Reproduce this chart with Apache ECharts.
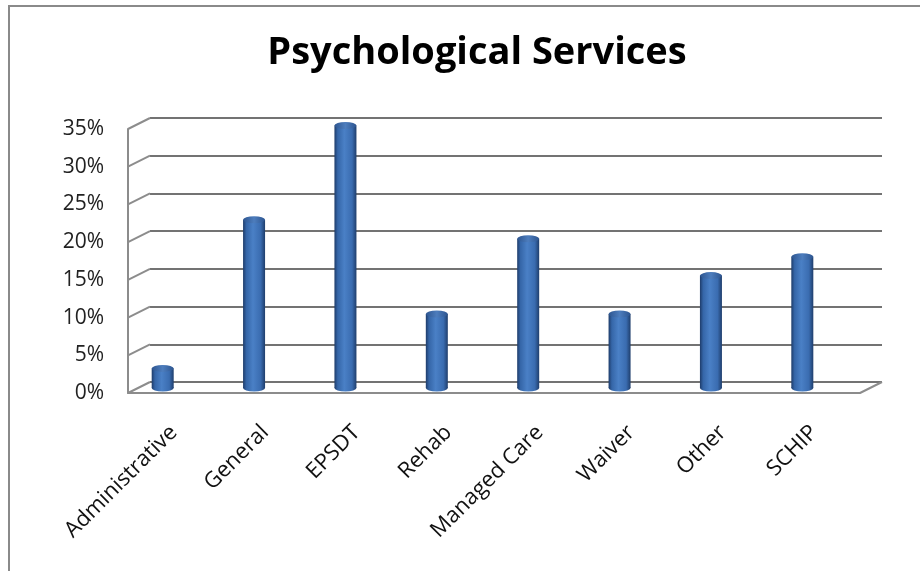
<!DOCTYPE html>
<html>
<head>
<meta charset="utf-8">
<script src="https://cdn.jsdelivr.net/npm/echarts@6/dist/echarts.min.js"></script>
<style>
  html, body { margin: 0; padding: 0; background: #fff; }
  #chart { width: 920px; height: 571px; }
</style>
</head>
<body>
<div id="chart"></div>
<script>
const categories = ["Administrative", "General", "EPSDT", "Rehab", "Managed Care", "Waiver", "Other", "SCHIP"];
const shares = [2.6, 22.3, 34.8, 9.8, 19.8, 9.8, 14.9, 17.4];
const yTicks = [0, 5, 10, 15, 20, 25, 30, 35];

// fake 3d: back wall is the front grid moved by this much
const DX = 22, DY = -11;

const chart = echarts.init(document.getElementById("chart"));

const barFill = new echarts.graphic.LinearGradient(0, 0, 1, 0, [
    { offset: 0, color: "#1e3c6a" },
    { offset: 0.15, color: "#3566a8" },
    { offset: 0.45, color: "#4a80c6" },
    { offset: 0.8, color: "#3a6cb0" },
    { offset: 1, color: "#1f3e6c" }
]);

const capFill = new echarts.graphic.LinearGradient(0, 0, 1, 0, [
    { offset: 0, color: "#2d5590" },
    { offset: 0.5, color: "#4d7dbd" },
    { offset: 1, color: "#2d5590" }
]);

const option = {
    backgroundColor: "#fff",
    animation: false,
    title: {
        text: "Psychological Services",
        left: 472,
        top: 29,
        textAlign: "center",
        textStyle: {
            fontFamily: "Open Sans",
            fontWeight: "bold",
            fontSize: 38,
            color: "#000"
        }
    },
    graphic: [
        {
            type: "rect",
            shape: { x: 9, y: 6, width: 1000, height: 1000 },
            style: { fill: null, stroke: "#8a8a8a", lineWidth: 2 },
            silent: true
        }
    ],
    grid: [
        { left: 128 + DX, top: 129 + DY, width: 732, height: 264 },
        { left: 128, top: 129, width: 732, height: 264 },
        { left: 117, top: 124, width: 731, height: 264 }
    ],
    xAxis: [
        { gridIndex: 0, type: "category", data: categories, show: false },
        {
            gridIndex: 1,
            type: "category",
            data: categories,
            axisLine: { show: true, lineStyle: { color: "#8c8c8c", width: 2 } },
            axisTick: { show: false },
            axisLabel: {
                interval: 0,
                rotate: 45,
                margin: 36,
                fontFamily: "Open Sans",
                fontSize: 22,
                color: "#111"
            }
        },
        { gridIndex: 2, type: "category", data: categories, show: false }
    ],
    yAxis: [
        {
            gridIndex: 0,
            type: "value",
            min: 0,
            max: 35,
            interval: 5,
            axisLine: { show: false },
            axisTick: { show: false },
            axisLabel: { show: false },
            splitLine: { show: true, lineStyle: { color: "#737373", width: 2 } }
        },
        {
            gridIndex: 1,
            type: "value",
            min: 0,
            max: 35,
            interval: 5,
            axisLine: { show: true, lineStyle: { color: "#8c8c8c", width: 2 } },
            axisTick: { show: false },
            splitLine: { show: false },
            axisLabel: {
                formatter: "{value}%",
                margin: 24,
                padding: [5, 0, 0, 0],
                fontFamily: "Open Sans",
                fontSize: 21,
                color: "#222"
            }
        },
        { gridIndex: 2, type: "value", min: 0, max: 35, interval: 5, show: false, splitLine: { show: false } }
    ],
    series: [
        {
            // diagonal bits joining the front axis to the back wall
            type: "custom",
            xAxisIndex: 1,
            yAxisIndex: 1,
            silent: true,
            data: yTicks.map((v) => [0, v, -1]).concat([[categories.length - 1, 0, 1]]),
            renderItem: (params, api) => {
                const p = api.coord([api.value(0), api.value(1)]);
                const bw = api.size([1, 0])[0];
                const x0 = p[0] + api.value(2) * bw / 2;
                return {
                    type: "line",
                    shape: { x1: x0, y1: p[1], x2: x0 + DX, y2: p[1] + DY },
                    style: { stroke: "#8c8c8c", lineWidth: 2 }
                };
            }
        },
        {
            type: "bar",
            xAxisIndex: 2,
            yAxisIndex: 2,
            barWidth: 22,
            data: shares,
            itemStyle: { color: barFill },
            z: 3
        },
        {
            type: "pictorialBar",
            xAxisIndex: 2,
            yAxisIndex: 2,
            symbol: "circle",
            symbolSize: [22, 7],
            symbolPosition: "start",
            symbolOffset: [0, "50%"],
            data: shares,
            itemStyle: { color: barFill },
            z: 2
        },
        {
            type: "pictorialBar",
            xAxisIndex: 2,
            yAxisIndex: 2,
            symbol: "circle",
            symbolSize: [22, 7],
            symbolPosition: "end",
            symbolOffset: [0, "-50%"],
            data: shares,
            itemStyle: { color: capFill },
            z: 4
        }
    ]
};

chart.setOption(option);
</script>
</body>
</html>
